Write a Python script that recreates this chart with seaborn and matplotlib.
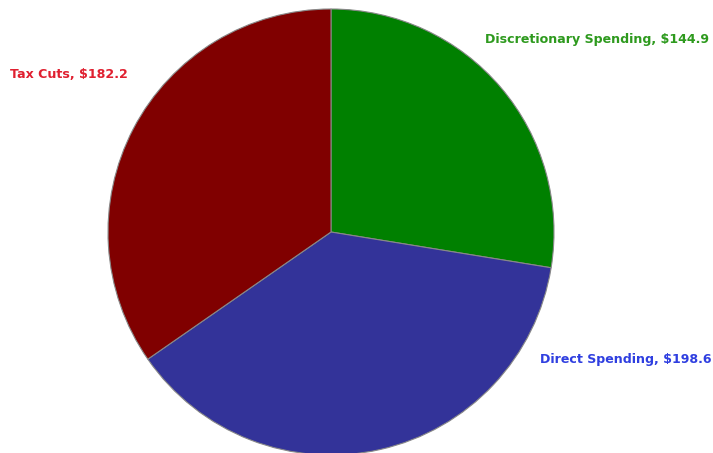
import matplotlib
matplotlib.use("Agg")
import matplotlib.pyplot as plt
import seaborn as sns

categories = ["Discretionary Spending", "Direct Spending", "Tax Cuts"]
values = [144.9, 198.6, 182.2]
slice_colors = ["#008000", "#333399", "#800000"]
label_colors = ["#2e9a1e", "#2f3fe0", "#e02030"]

sns.set_theme(style="white")
plt.rcParams['font.family'] = ['DejaVu Sans']

W, H = 713, 453
fig = plt.figure(figsize=(W / 100, H / 100), dpi=100)
ax = fig.add_axes([0, 0, 1, 1])
ax.set_xlim(0, W)
ax.set_ylim(0, H)
ax.set_aspect("equal")
ax.axis("off")

ax.pie(values, colors=slice_colors, startangle=90, counterclock=False,
       center=(331, H - 232), radius=223,
       wedgeprops=dict(edgecolor="#888888", linewidth=0.8))
ax.set_xlim(0, W)
ax.set_ylim(0, H)

label_pos = [(485, H - 39, "left"), (540, H - 360, "left"), (10, H - 75, "left")]
for cat, val, col, (x, y, ha) in zip(categories, values, label_colors, label_pos):
    ax.text(x, y, f"{cat}, ${val:.1f}", color=col, fontsize=9.1,
            fontweight="bold", ha=ha, va="center")

fig.savefig("out.png", dpi=100)
